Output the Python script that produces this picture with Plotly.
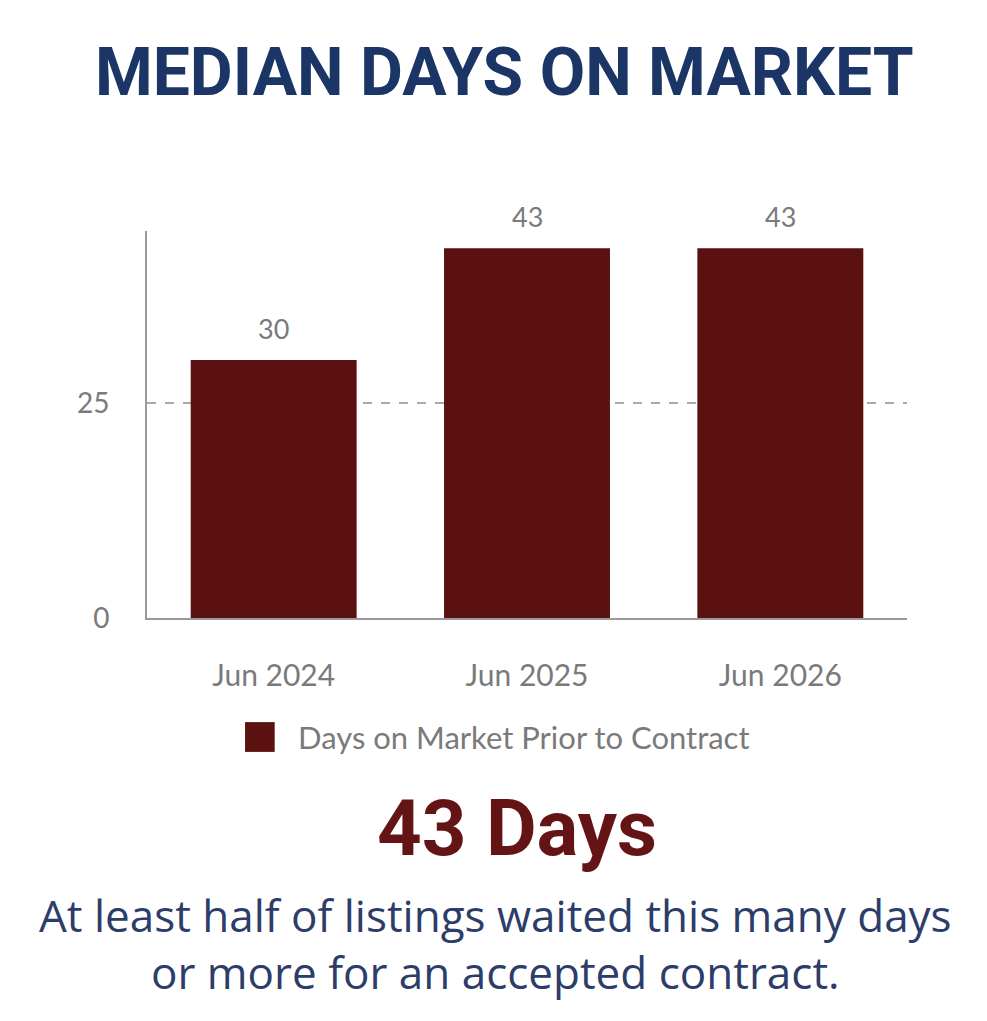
import plotly.graph_objects as go

# data
months = ["Jun 2024", "Jun 2025", "Jun 2026"]
days_on_market = [30, 43, 43]
series_name = "Days on Market Prior to Contract"
headline_value = "43 Days"
subtitle_lines = ["At least half of listings waited this many days",
                  "or more for an accepted contract."]
y_ticks = [0, 25]

BAR_RED = "#5c1111"
NAVY = "#1b3566"
GREY = "#7a7a7a"

fig = go.Figure()

fig.add_trace(go.Bar(
    x=months,
    y=days_on_market,
    name=series_name,
    marker=dict(color=BAR_RED, line=dict(width=0)),
    showlegend=False
))

# value labels above bars
for m, v in zip(months, days_on_market):
    fig.add_annotation(
        x=m, y=v, text=str(v),
        showarrow=False, yanchor="bottom", yshift=13,
        font=dict(family="Lato", size=27, color=GREY)
    )

# legend drawn by hand so the swatch can be as large as in the original
fig.add_shape(
    type="rect", xref="paper", yref="paper",
    x0=0.129, x1=0.168, y0=-0.269, y1=-0.346,
    fillcolor=BAR_RED, line=dict(width=0)
)
fig.add_annotation(
    xref="paper", yref="paper", x=0.196, y=-0.307,
    text=series_name, showarrow=False,
    xanchor="left", yanchor="middle",
    font=dict(family="Lato", size=31, color=GREY)
)

# big headline number under the legend
fig.add_annotation(
    xref="paper", yref="paper", x=0.487, y=-0.543,
    text=f"<b>{headline_value}</b>", showarrow=False,
    xanchor="center", yanchor="middle",
    font=dict(family="Roboto", size=78, color="#641414")
)

fig.add_annotation(
    xref="paper", yref="paper", x=0.459, y=-0.84,
    text="<br>".join(subtitle_lines), showarrow=False,
    xanchor="center", yanchor="middle", align="center",
    font=dict(family="Open Sans", size=44, color="#2d3d69")
)

fig.update_layout(
    width=979,
    height=1013,
    margin=dict(l=139, r=80, t=223, b=403),
    plot_bgcolor="white",
    paper_bgcolor="white",
    bargap=0.345,
    title=dict(
        text="<b>MEDIAN DAYS ON MARKET</b>",
        x=0.507, xref="container", xanchor="center",
        y=0.937, yref="container", yanchor="middle",
        font=dict(family="Roboto", size=66, color=NAVY)
    ),
    xaxis=dict(
        showline=True, linecolor="#9a9a9a", linewidth=2,
        showgrid=False, ticks="",
        tickfont=dict(family="Lato", size=30, color=GREY),
        ticklabelstandoff=30
    ),
    yaxis=dict(
        range=[0, 45],
        tickvals=y_ticks,
        showline=True, linecolor="#9a9a9a", linewidth=2,
        showgrid=True, gridcolor="#aaaaaa", gridwidth=2, griddash="dash",
        zeroline=False, ticks="",
        tickfont=dict(family="Lato", size=28, color=GREY),
        ticklabelstandoff=30
    ),
)

fig.write_html("out.html")
